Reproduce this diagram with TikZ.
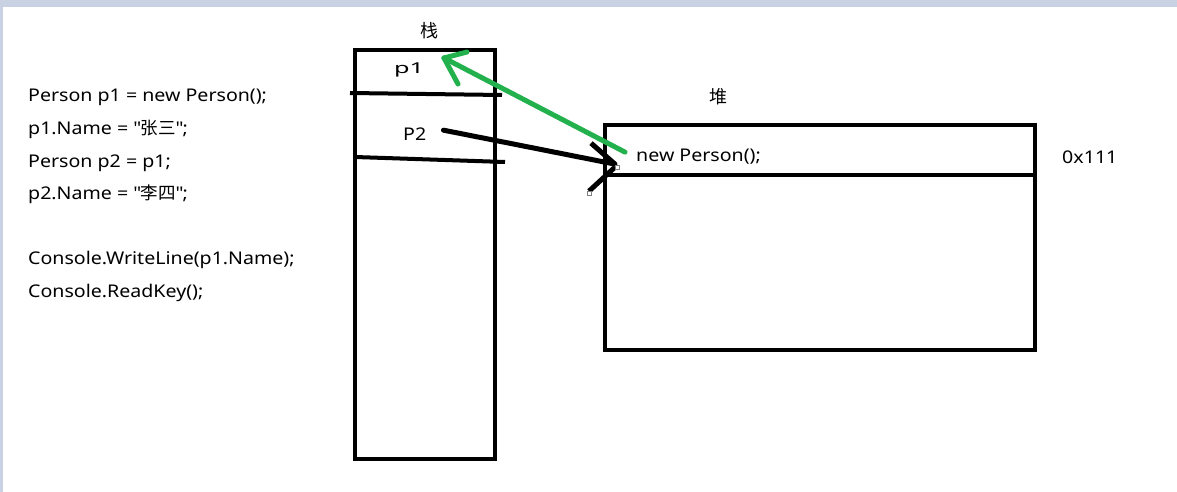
\documentclass[tikz,border=0pt]{standalone}
\usepackage{fontspec}
\setmainfont{Noto Sans}[FakeStretch=1.12]
\newfontfamily\cjk{Noto Sans CJK SC}
\definecolor{paintgreen}{RGB}{34,177,76}
\definecolor{winframe}{RGB}{200,210,226}
\tikzstyle{box} = [line width=4pt]
\tikzstyle{stroke} = [line width=5pt,line cap=round]
\tikzstyle{code} = [font=\fontsize{17.5}{21}\selectfont,inner sep=0pt,anchor=base west]
\tikzstyle{hanzi} = [font=\cjk\fontsize{18}{21}\selectfont,inner sep=0pt]
\tikzstyle{handle} = [draw=gray,fill=white,line width=0.8pt]

\begin{document}
\begin{tikzpicture}[x=1pt,y=-1pt]
\useasboundingbox (0,0) rectangle (1177,492);
\fill[white] (0,0) rectangle (1177,492);
\fill[winframe] (0,0) rectangle (1177,7);
\fill[winframe] (0,0) rectangle (3,492);

% source code
\foreach \n/\y/\s in {1/102/{Person p1 = new Person();},
                      2/134.5/{p1.Name = \textquotedbl{\cjk 张三}\textquotedbl;},
                      3/167/{Person p2 = p1;},
                      4/199.5/{p2.Name = \textquotedbl{\cjk 李四}\textquotedbl;},
                      5/264.5/{Console.WriteLine(p1.Name);},
                      6/297/{Console.ReadKey();}}
{
 \node[code] (line\n) at (28,\y) {\s};
}

% stack
\node[hanzi] (stacklbl) at (429.5,31) {栈};
\draw[box] (354.5,50.5) rectangle (495,459);
\draw[box] (350,93) -- (502,95);
\draw[box] (355,157) -- (505,162);
\node[font=\bfseries\fontsize{15}{18}\selectfont,inner sep=0pt] (p1) at (409,70) {\scalebox{1.5}[1]{p1}};
\node[code] (p2) at (403,140) {P2};

% heap
\node[hanzi] (heaplbl) at (718,96.5) {堆};
\draw[box] (605,125) rectangle (1035,350);
\draw[box] (605,175) -- (1035,175);
\node[code] (newobj) at (636,161) {new Person();};
\node[code] (addr) at (1062,163) {0x111};

% p2 -> object
\coordinate (btip) at ([xshift=-21pt,yshift=-8pt]newobj.west);
\draw[stroke] ([xshift=17pt,yshift=3.5pt]p2.east) -- (btip);
\draw[stroke,line cap=butt] (btip) -- ++(-24,-21);
\draw[stroke,line cap=butt] (btip) ++(0,3) -- ++(-26,24);
\draw[handle] (615,165) rectangle ++(4,4);
\draw[handle] (587,191) rectangle ++(4,4);

% object -> p1
\coordinate (gtip) at ([xshift=35pt,yshift=12pt]p1.center);
\draw[stroke,paintgreen] ([xshift=-11pt,yshift=4pt]newobj.west) -- (gtip);
\draw[stroke,paintgreen] (gtip) -- ++(23,-6);
\draw[stroke,paintgreen] (gtip) -- ++(14,26);

\end{tikzpicture}
\end{document}
